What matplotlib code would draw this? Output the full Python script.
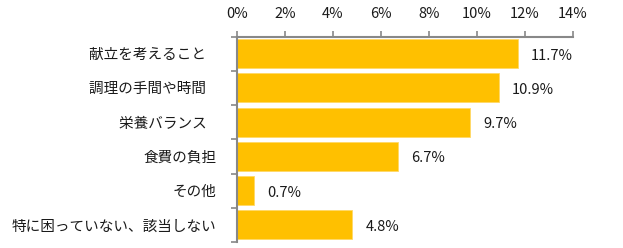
import matplotlib
matplotlib.use("Agg")
import matplotlib.pyplot as plt
from matplotlib.ticker import FuncFormatter, FixedLocator

plt.rcParams['font.family'] = ['Noto Sans CJK JP', 'DejaVu Sans']

categories = ["献立を考えること   ", "調理の手間や時間   ", "栄養バランス   ", "食費の負担", "その他", "特に困っていない、該当しない"]
values = [11.7, 10.9, 9.7, 6.7, 0.7, 4.8]
xticks = [0, 2, 4, 6, 8, 10, 12, 14]

fig = plt.figure(figsize=(6.23, 2.48), dpi=100)
ax = fig.add_axes([237/623, 1-242/248, (573-237)/623, (242-36.5)/248])

n = len(categories)
ypos = list(range(n))
ax.barh(ypos, values, height=0.84, color='#FFC000', edgecolor='#FFD966', linewidth=0.6)
ax.set_ylim(n-0.5, -0.5)
ax.set_xlim(0, 14)

for y, v in zip(ypos, values):
    ax.text(v + 0.56, y + 0.06, f"{v:.1f}%", va='center', ha='left', fontsize=10.5, color='#1a1a1a')

ax.xaxis.tick_top()
ax.set_xticks(xticks)
ax.xaxis.set_major_formatter(FuncFormatter(lambda x, p: f"{int(x)}%"))
ax.tick_params(axis='x', direction='out', length=4.5, width=1.2, color='#888888', labelsize=10.5, pad=7, labelcolor='#1a1a1a')

ax.set_yticks(ypos)
ax.set_yticklabels(categories, fontsize=10.5, color='#1a1a1a')
ax.yaxis.set_minor_locator(FixedLocator([i - 0.5 for i in range(n+1)]))
ax.tick_params(axis='y', which='major', length=0, pad=15)
ax.tick_params(axis='y', which='minor', direction='out', length=4.5, width=1.2, color='#888888')

for s in ['right', 'bottom']:
    ax.spines[s].set_visible(False)
for s in ['left', 'top']:
    ax.spines[s].set_color('#888888')
    ax.spines[s].set_linewidth(1.5)

fig.savefig('out.png', dpi=100)
